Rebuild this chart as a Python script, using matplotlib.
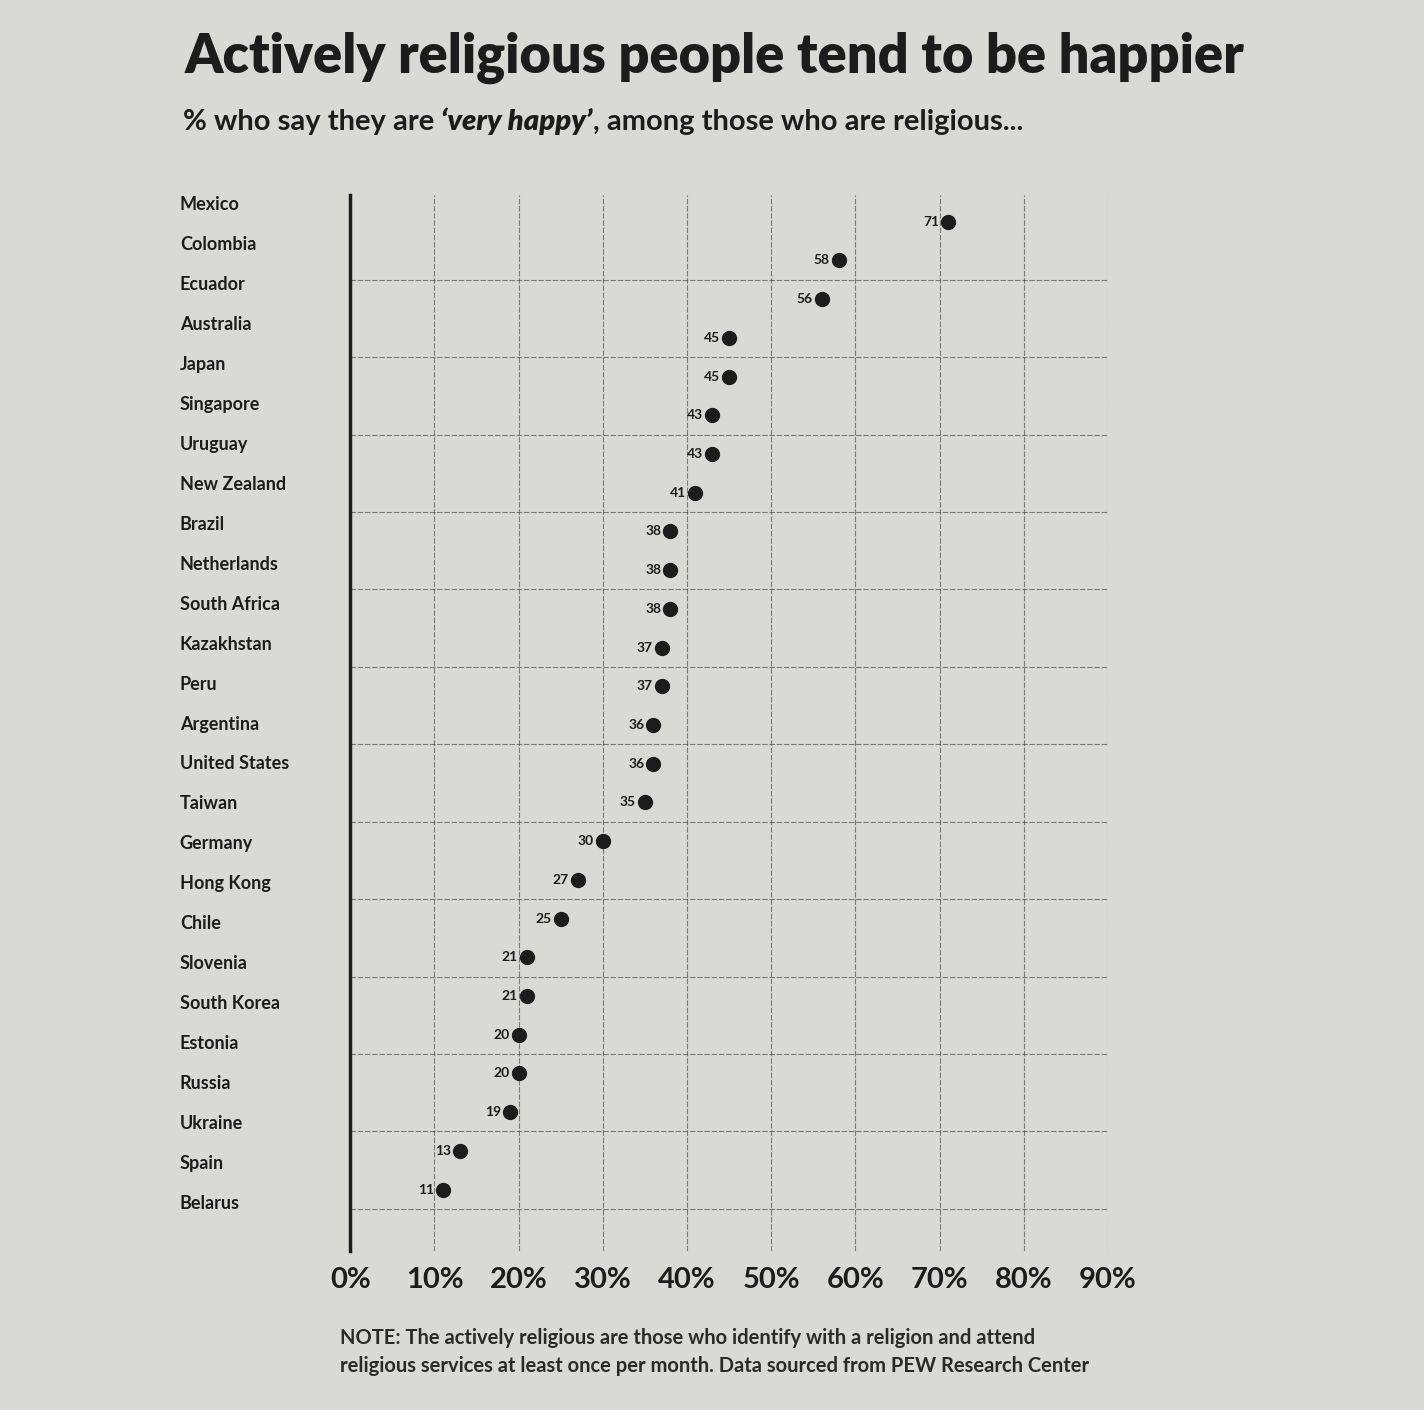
import matplotlib
matplotlib.use("Agg")
import matplotlib.pyplot as plt
import matplotlib.transforms as mtransforms

countries = ["Mexico", "Colombia", "Ecuador", "Australia", "Japan", "Singapore",
             "Uruguay", "New Zealand", "Brazil", "Netherlands", "South Africa",
             "Kazakhstan", "Peru", "Argentina", "United States", "Taiwan",
             "Germany", "Hong Kong", "Chile", "Slovenia", "South Korea",
             "Estonia", "Russia", "Ukraine", "Spain", "Belarus"]
values = [71, 58, 56, 45, 45, 43, 43, 41, 38, 38, 38, 37, 37, 36, 36, 35,
          30, 27, 25, 21, 21, 20, 20, 19, 13, 11]
x_ticks = [0, 10, 20, 30, 40, 50, 60, 70, 80, 90]
x_tick_labels = ["0%", "10%", "20%", "30%", "40%", "50%", "60%", "70%", "80%", "90%"]

title = "Actively religious people tend to be happier"
sub_a = "% who say they are "
sub_b = "\u2018very happy\u2019"
sub_c = ", among those who are religious..."
note = ("NOTE: The actively religious are those who identify with a religion and attend\n"
        "religious services at least once per month. Data sourced from PEW Research Center")

BG = "#d9d9d5"
INK = "#1c1c1c"
FONT = ["Lato", "DejaVu Sans"]
plt.rcParams["font.family"] = FONT

fig = plt.figure(figsize=(14.24, 14.10), dpi=100, facecolor=BG)
ax = fig.add_axes([0.246, 0.113, 0.532, 0.749])
ax.set_facecolor(BG)

n = len(countries)
ys = list(range(n))

ax.set_xlim(0, 90)
ax.set_ylim(n - 1 + 1.58, -0.7)

# grid
grid_kw = dict(color="#3a3a3a", lw=0.8, alpha=0.6, ls=(0, (5, 1.5)), zorder=1)
for xv in x_ticks[1:]:
    ax.axvline(xv, **grid_kw)
for i in range(1, n, 2):
    ax.axhline(i + 0.5, **grid_kw)

for s in ["top", "right", "bottom"]:
    ax.spines[s].set_visible(False)
ax.spines["left"].set_linewidth(2.5)
ax.spines["left"].set_color(INK)

ax.scatter(values, ys, s=100, color=INK, zorder=3)

off = mtransforms.offset_copy(ax.transData, fig=fig, x=-9, y=0, units="dots")
for v, y in zip(values, ys):
    ax.text(v, y, str(v), transform=off, ha="right", va="center",
            fontsize=10, color=INK, fontweight="bold")

# row labels, spread slightly wider than the dot rows as in the print
lab_tr = mtransforms.blended_transform_factory(ax.transAxes, ax.transData)
for c, y in zip(countries, ys):
    ax.text(-0.225, y * 1.032 - 0.44, c, transform=lab_tr, ha="left", va="center",
            fontsize=13, color=INK, fontweight="bold")

ax.set_yticks([])
ax.set_xticks(x_ticks)
ax.set_xticklabels(x_tick_labels, fontsize=21, fontweight="bold", color=INK)
ax.tick_params(axis="x", length=0, pad=12)

fig.text(185 / 1424, 1 - 58 / 1410, title, ha="left", va="center",
         fontsize=39, fontweight="heavy", color=INK)

t1 = fig.text(183 / 1424, 1 - 122 / 1410, sub_a, ha="left", va="center",
              fontsize=21, fontweight="bold", color=INK)
t2 = ax.annotate(sub_b, xy=(1, 0), xycoords=t1, ha="left", va="bottom",
                 fontsize=21, fontweight="heavy", fontstyle="italic", color=INK,
                 annotation_clip=False)
t3 = ax.annotate(sub_c, xy=(1, 0), xycoords=t2, ha="left", va="bottom",
                 fontsize=21, fontweight="bold", color=INK, annotation_clip=False)

fig.text(340 / 1424, 1 - 1352 / 1410, note, ha="left", va="center",
         fontsize=14.5, fontweight="bold", color="#2a2a2a", linespacing=1.45)

fig.savefig("out.png", dpi=100, facecolor=BG)
